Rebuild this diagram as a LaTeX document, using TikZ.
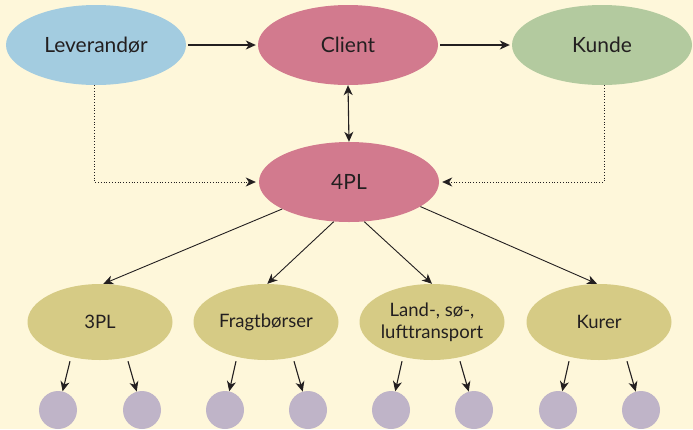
\documentclass[tikz,border=0pt]{standalone}
\usepackage{fontspec}
\setmainfont{Lato}
\usetikzlibrary{arrows.meta,shapes.geometric}
\definecolor{bgcream}{HTML}{FEF7DA}
\definecolor{leverblue}{HTML}{A3CCE0}
\definecolor{clientrose}{HTML}{D27A8E}
\definecolor{kundegreen}{HTML}{B3CA9F}
\definecolor{plolive}{HTML}{D6CB85}
\definecolor{dotlilac}{HTML}{BFB4C8}
\definecolor{inkgray}{HTML}{231F20}
\tikzset{
  tip/.style={-{Stealth[length=10pt,width=9pt,inset=3pt]}},
  bigell/.style={ellipse, fill=#1, minimum width=180pt, minimum height=80pt, inner sep=0pt,
    font=\fontsize{21}{25}\selectfont, text=inkgray},
  smallell/.style={ellipse, fill=plolive, minimum width=145pt, minimum height=76pt, inner sep=0pt,
    align=center, font=\fontsize{18.5}{22}\selectfont, text=inkgray},
  leaf/.style={circle, fill=dotlilac, minimum size=38pt, inner sep=0pt},
  flow/.style={draw=inkgray, line width=1.1pt, tip},
  link/.style={draw=inkgray, line width=0.9pt, tip},
  info/.style={draw=inkgray, line width=0.8pt, dotted, tip}
}
\begin{document}
\begin{tikzpicture}[x=1pt,y=-1pt]
\fill[bgcream] (0,0) rectangle (693,429);
\useasboundingbox (0,0) rectangle (693,429);
\node[bigell=leverblue] (lev) at (96,45) {Leverandør};
\node[bigell=clientrose] (client) at (348,45) {Client};
\node[bigell=kundegreen] (kunde) at (602,45) {Kunde};
\node[bigell=clientrose] (fourpl) at (349,182) {4PL};
\node[smallell] (pl3) at (100,322) {3PL};
\node[smallell] (frag) at (266,322) {Fragtbørser};
\node[smallell] (land) at (432,322) {Land-, sø-,\\lufttransport};
\node[smallell] (kurer) at (599,322) {Kurer};
\node[leaf] (a1) at (58,410) {};
\node[leaf] (a2) at (142,410) {};
\node[leaf] (b1) at (225,410) {};
\node[leaf] (b2) at (308,410) {};
\node[leaf] (c1) at (391,410) {};
\node[leaf] (c2) at (474,410) {};
\node[leaf] (d1) at (558,410) {};
\node[leaf] (d2) at (641,410) {};
\coordinate (levcorner) at (94,182);
\coordinate (kundecorner) at (604,182);
\path[flow] ([xshift=2pt]lev.east) -- ([xshift=-2pt]client.west);
\path[flow] ([xshift=2pt]client.east) -- ([xshift=-2pt]kunde.west);
\path[flow,{Stealth[length=10pt,width=9pt,inset=3pt]}-{Stealth[length=10pt,width=9pt,inset=3pt]}] (client.south) -- (fourpl.north);
\path[info] (lev.south -| levcorner) -- (levcorner) -- ([xshift=-3pt]fourpl.west);
\path[info] (kunde.south -| kundecorner) -- (kundecorner) -- ([xshift=3pt]fourpl.east);
\path[link] (fourpl.202) -- (pl3.85);
\path[link] (fourpl.249) -- (frag.88);
\path[link] (fourpl.291) -- (land.90);
\path[link] (fourpl.341) -- (kurer.93);
\foreach \src/\lft/\rgt in {pl3/a1/a2, frag/b1/b2, land/c1/c2, kurer/d1/d2} {
  \path[flow] ([xshift=-30pt,yshift=-1pt]\src.south) -- (\lft);
  \path[flow] ([xshift=28pt,yshift=-1pt]\src.south) -- (\rgt);
}
\end{tikzpicture}
\end{document}
